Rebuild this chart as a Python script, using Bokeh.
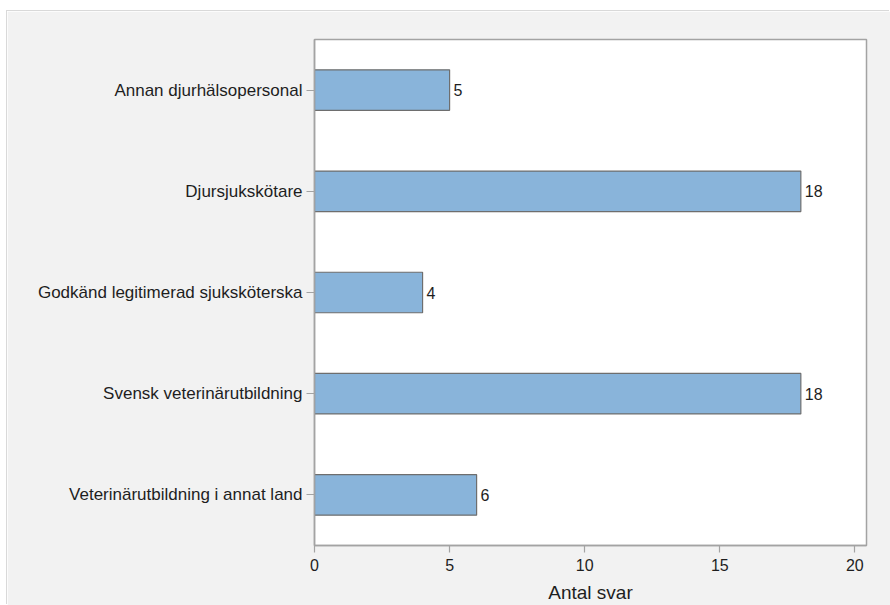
from bokeh.plotting import figure
from bokeh.models import FactorRange, Range1d, ColumnDataSource, FixedTicker
from bokeh.core.properties import value
from bokeh.embed import file_html
from bokeh.resources import INLINE

categories = [
    "Annan djurhälsopersonal",
    "Djursjukskötare",
    "Godkänd legitimerad sjuksköterska",
    "Svensk veterinärutbildning",
    "Veterinärutbildning i annat land",
]
counts = [5, 18, 4, 18, 6]
x_ticks = [0, 5, 10, 15, 20]
x_label = "Antal svar"

FONT = "Liberation Sans"
TEXT = "#1e1e1e"
GRAY = "#a3a3a3"

src = ColumnDataSource(dict(cat=categories, n=counts, lab=[str(c) for c in counts]))

p = figure(
    width=883, height=594,
    y_range=FactorRange(factors=list(reversed(categories))),
    x_range=Range1d(0, 20.43),
    output_backend="svg", toolbar_location=None,
    min_border_left=307, min_border_top=28, min_border_right=24, min_border_bottom=59,
)
p.styles = {"margin-left": "7px", "margin-top": "11px",
            "box-shadow": "-1px -1px 0 0 #d9d9d9"}
p.border_fill_color = "#f2f2f2"
p.background_fill_color = "white"
p.outline_line_color = GRAY
p.outline_line_width = 1.5
p.xgrid.visible = False
p.ygrid.visible = False

p.hbar(y="cat", right="n", left=0, height=0.4, source=src,
       fill_color="#89b4da", line_color="#6e6e6e", line_width=1.2)
p.text(x="n", y="cat", text="lab", source=src, x_offset=4,
       text_baseline="middle", text_align="left",
       text_font=value(FONT), text_font_size="16px", text_color=TEXT)

for ax in (p.xaxis[0], p.yaxis[0]):
    ax.axis_line_color = GRAY
    ax.axis_line_width = 1.5
    ax.major_tick_line_color = GRAY
    ax.major_tick_line_width = 1.2
    ax.major_tick_in = 0
    ax.minor_tick_line_color = None
    ax.major_label_text_font = FONT
    ax.major_label_text_color = TEXT

p.yaxis.major_label_text_font_size = "17px"
p.xaxis.major_label_text_font_size = "16px"
p.yaxis.major_tick_out = 8
p.yaxis.major_label_standoff = 4
p.xaxis.major_tick_out = 7
p.xaxis.major_label_standoff = 6
p.xaxis.ticker = FixedTicker(ticks=x_ticks)
p.xaxis.axis_label = x_label
p.xaxis.axis_label_text_font = FONT
p.xaxis.axis_label_text_font_size = "19px"
p.xaxis.axis_label_text_font_style = "normal"
p.xaxis.axis_label_text_color = TEXT
p.xaxis.axis_label_standoff = 8

open("out.html", "w").write(file_html(p, INLINE))
